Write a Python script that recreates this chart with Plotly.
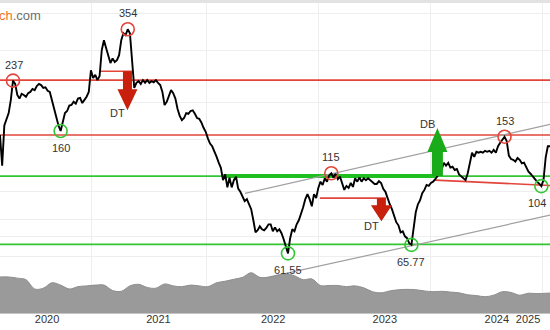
import math
import pandas as pd
import plotly.graph_objects as go

START = "2019-08-02"
END = "2024-06-14"

# weekly closing prices
price = [
    155, 122, 167, 174, 184, 204, 237, 231, 212, 206,
    214, 212, 209, 215, 217, 222, 220, 227, 231, 229,
    224, 225, 219, 217, 204, 188, 180, 167, 160, 171,
    184, 187, 195, 196, 201, 198, 206, 207, 199, 204,
    209, 217, 257, 242, 248, 238, 246, 301, 325, 306,
    285, 272, 282, 274, 278, 289, 325, 343, 338, 354,
    343, 278, 224, 233, 236, 231, 238, 233, 238, 233,
    236, 234, 238, 233, 229, 217, 196, 201, 211, 220,
    215, 206, 190, 180, 174, 177, 184, 183, 187, 188,
    183, 177, 176, 171, 164, 159, 151, 145, 142, 137,
    131, 125, 120, 109, 114, 103, 111, 103, 109, 112,
    102, 99.5, 95.4, 92.5, 94, 90.3, 86.9, 79.7, 72.5, 73.7,
    76, 74.3, 73.7, 75, 77.2, 77.2, 73.1, 75.4, 73.1, 74.3,
    72, 68.7, 65.1, 61.55, 69.3, 74.3, 73.1, 77.2, 79.7, 83.5,
    88.2, 94, 97.7, 94, 88.9, 97.7, 94.7, 102.6, 107.7, 105,
    110.6, 107.7, 113, 115, 111.3, 114.6, 109.8, 112.1, 106.6, 101,
    104.2, 102.6, 106.6, 103.4, 110.6, 107.7, 111.3, 107.7, 110.6, 109,
    110.6, 109, 108.1, 105.8, 105.8, 108.1, 106.6, 101.8, 99.5, 94,
    90.3, 86.9, 82.9, 78.5, 76.6, 72.5, 73.1, 70.3, 69.3, 66.6,
    65.77, 75, 84.8, 90.3, 93.2, 98.5, 101, 105, 104.2, 106.6,
    107.7, 109.8, 112.1, 115, 118.9, 124.8, 122, 124.8, 120.2, 121,
    118, 118.9, 114, 112.1, 110.6, 109, 115, 126, 135, 130.7,
    136, 135, 136, 135, 137, 136, 137, 135, 138, 135,
    142, 146, 149, 153, 148, 132, 128.5, 127.7, 126, 129.6,
    127.7, 124.3, 125, 121, 116.6, 114.6, 112, 110, 107.7, 106,
    104, 109, 130, 142, 142,
]
dates = pd.date_range(START, periods=len(price), freq="7D")

# smoothed volume (millions), every 4 weeks
volume = [
    4.65, 4.65, 4.5, 4.3, 3.1, 3.2, 3.9, 3.6, 3.1, 3.4,
    3.5, 3.6, 3.6, 2.9, 2.8, 3.5, 3.7, 3.3, 3.2, 3.75,
    3.5, 3.4, 3.6, 3.5, 3.4, 3.9, 4.1, 4.35, 4.6, 5.2,
    4.6, 4.6, 4.85, 5.05, 4.8, 4.3, 4.4, 3.55, 3.55, 3.55,
    3.4, 3.5, 3.25, 2.75, 2.6, 2.85, 3.0, 3.05, 3.0, 2.85,
    2.75, 2.8, 2.7, 2.6, 2.35, 2.25, 2.1, 2.3, 2.75, 2.65,
    2.3, 2.55, 2.5, 2.55, 2.6,
]
vol_dates = pd.date_range(START, periods=len(volume), freq="28D")

# pivots
pivot_idx = [6, 28, 59, 133, 153, 190, 233, 250]
pivot_lbl = ["237", "160", "354", "61.55", "115", "65.77", "153", "104"]
pivot_high = [True, False, True, False, True, False, True, False]
pivot_dx = [1, 0, 0, 0, 0, 0, 0, -4]

# horizontal levels spanning whole chart
red_levels = [238, 155]
green_levels = [112.5, 66]

# pattern lines
db_neck = (["2021-07-23", "2023-06-14"], [112.5, 112.5])
dt1_neck = (["2020-06-20", "2020-10-05"], [255, 255])
dt2_neck = (["2022-06-01", "2023-01-01"], [94.7, 94.7])
red_slope = (["2023-06-08", END], [109, 104.5])
chan_up = (["2021-10-02", END], [98.3, 168.5])
chan_lo = (["2021-11-26", END], [50.5, 82.9])

# pattern arrows: (date, level, kind, label)
arrows = [
    ("2020-09-17", 255, "DT1", "DT"),
    ("2022-12-17", 94.7, "DT2", "DT"),
    ("2023-06-16", 112.5, "DB", "DB"),
]

x_ticks = ["2020-01-01", "2020-12-26", "2022-01-01", "2022-12-28", "2023-12-25", "2024-04-04"]
x_text = ["2020", "2021", "2022", "2023", "2024", "2025"]
x_grid = ["2020-05-25", "2021-05-29", "2022-05-26", "2023-05-26", "2024-05-22"]
y_grid = [60, 70, 80, 100, 150, 200, 300, 400]

RED = "#e2463b"
GREEN = "#33c633"
FONT = "Liberation Sans, Arial, sans-serif"

fig = go.Figure()

for lv in red_levels:
    fig.add_trace(go.Scatter(x=[START, END], y=[lv, lv], mode="lines",
                             line=dict(color=RED, width=1.6), hoverinfo="skip"))
for lv in green_levels:
    fig.add_trace(go.Scatter(x=[START, END], y=[lv, lv], mode="lines",
                             line=dict(color=GREEN, width=1.8), hoverinfo="skip"))
fig.add_trace(go.Scatter(x=db_neck[0], y=db_neck[1], mode="lines",
                         line=dict(color="#1fbf1f", width=4), hoverinfo="skip"))
for ln in (dt1_neck, dt2_neck, red_slope):
    fig.add_trace(go.Scatter(x=ln[0], y=ln[1], mode="lines",
                             line=dict(color=RED, width=1.6), hoverinfo="skip"))
for ln in (chan_up, chan_lo):
    fig.add_trace(go.Scatter(x=ln[0], y=ln[1], mode="lines",
                             line=dict(color="#a0a0a0", width=1.2), hoverinfo="skip"))

fig.add_trace(go.Scatter(x=dates, y=price, mode="lines",
                         line=dict(color="black", width=1.9)))

px_x = [dates[i] for i in pivot_idx]
px_y = [price[i] for i in pivot_idx]
fig.add_trace(go.Scatter(
    x=px_x, y=px_y, mode="markers",
    marker=dict(symbol="circle-open", size=13,
                color=[RED if h else GREEN for h in pivot_high],
                line=dict(width=1.6)),
    hoverinfo="skip"))

fig.add_trace(go.Scatter(x=vol_dates, y=volume, mode="lines", yaxis="y2",
                         line=dict(color="#8e8e8e", width=1, shape="spline"),
                         fill="tozeroy", fillcolor="#9a9a9a", hoverinfo="skip"))

annotations = []
for xv, yv, lbl, h, dx in zip(px_x, px_y, pivot_lbl, pivot_high, pivot_dx):
    annotations.append(dict(x=xv, y=math.log10(yv), xref="x", yref="y", text=lbl,
                            showarrow=False, yshift=16 if h else -17, xshift=dx,
                            font=dict(family=FONT, size=11, color="#333")))

shapes = []
arrow_paths = {
    "DT1": ("M -4.5,0 L 4.5,0 L 4.5,-18 L 10,-18 L 0,-39 L -10,-18 L -4.5,-18 Z", "#c8200c", (-10, -42)),
    "DT2": ("M -4.5,0 L 4.5,0 L 4.5,-7 L 10.5,-7 L 0,-23 L -10.5,-7 L -4.5,-7 Z", "#c8200c", (-10, -28)),
    "DB": ("M -5.5,0 L 5.5,0 L 5.5,24 L 10,24 L 0,48 L -10,24 L -5.5,24 Z", "#19ab19", (-10, 52)),
}
for d, lv, kind, lbl in arrows:
    path, col, (dx, dy) = arrow_paths[kind]
    shapes.append(dict(type="path", xref="x", yref="y", xsizemode="pixel", ysizemode="pixel",
                       xanchor=d, yanchor=lv, path=path, fillcolor=col,
                       line=dict(width=0), layer="above"))
    annotations.append(dict(x=d, y=math.log10(lv), xref="x", yref="y", text=lbl,
                            showarrow=False, xshift=dx, yshift=dy,
                            font=dict(family=FONT, size=11, color="#333")))

shapes.append(dict(type="rect", xref="paper", yref="paper", x0=0, x1=1, y0=1, y1=1.011,
                   fillcolor="#e2e2e2", line=dict(width=0)))

annotations.append(dict(x=0, y=1, xref="paper", yref="paper", xanchor="left", yanchor="top",
                        xshift=-3, yshift=-3, showarrow=False,
                        text="<span style='color:#ef7326'>ch</span><span style='color:#6f6f6f'>.com</span>",
                        font=dict(family=FONT, size=13)))

fig.update_layout(
    width=550, height=330,
    margin=dict(l=0, r=0, t=3, b=17),
    paper_bgcolor="white", plot_bgcolor="white",
    showlegend=False,
    xaxis=dict(type="date", range=[START, END], tickmode="array", tickvals=x_ticks,
               ticktext=x_text, showgrid=False, ticks="", zeroline=False,
               showline=True, linecolor="#c4c4c4", linewidth=1, ticklabelstandoff=-4,
               tickfont=dict(family=FONT, size=11, color="#333"),
               minor=dict(tickmode="array", tickvals=x_grid, showgrid=True,
                          gridcolor="#eeeeee", gridwidth=1, ticks="")),
    yaxis=dict(type="log", range=[1.587, 2.638], tickmode="array", tickvals=y_grid,
               showticklabels=False, gridcolor="#eeeeee", gridwidth=1, zeroline=False),
    yaxis2=dict(overlaying="y", range=[0, 40], visible=False, showgrid=False),
    shapes=shapes, annotations=annotations,
)

fig.write_html("out.html")
